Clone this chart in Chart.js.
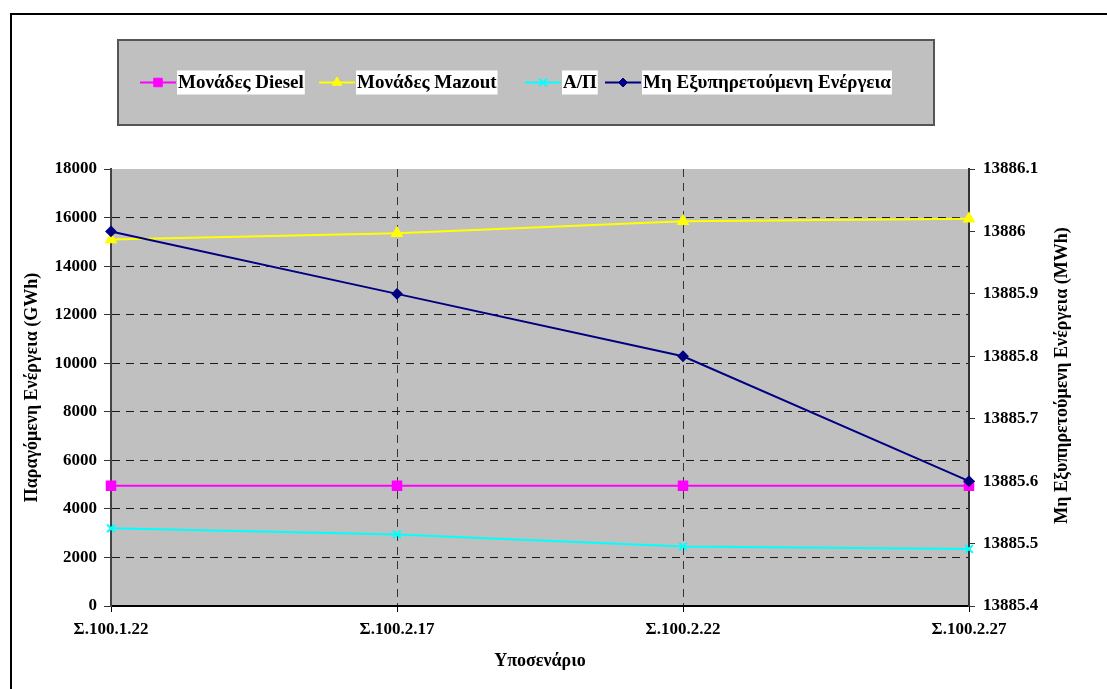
<!DOCTYPE html>
<html>
<head>
<meta charset="utf-8">
<script src="https://cdn.jsdelivr.net/npm/chart.js@4/dist/chart.umd.min.js"></script>
<style>
  html, body { margin: 0; padding: 0; background: #fff; }
  canvas { display: block; }
</style>
</head>
<body>
<canvas id="c" width="1107" height="689"></canvas>
<script>
// Scenario categories and yearly results
const scenarios = ['Σ.100.1.22', 'Σ.100.2.17', 'Σ.100.2.22', 'Σ.100.2.27'];
const dieselUnits = [4950, 4950, 4950, 4950];          // GWh
const mazoutUnits = [15100, 15350, 15850, 15950];      // GWh
const renewables = [3200, 2950, 2450, 2350];           // GWh
const unservedEnergy = [13886.0, 13885.9, 13885.8, 13885.6]; // MWh

// Axis tick values
const leftTicks = [0, 2000, 4000, 6000, 8000, 10000, 12000, 14000, 16000, 18000];
const rightTicks = [13885.4, 13885.5, 13885.6, 13885.7, 13885.8, 13885.9, 13886.0, 13886.1];

const FAMILY = '"Liberation Serif", "Times New Roman", serif';
const tickFont = { family: FAMILY, size: 17, weight: 'bold', lineHeight: 1.2 };
const titleFont = { family: FAMILY, size: 18, weight: 'bold', lineHeight: 1.2 };
const legendFontPx = 19;
const legendStarts = [140, 319, 525, 605];

const rightTitle = 'Μη Εξυπηρετούμενη Ενέργεια (MWh)';

// Background, outer frame, plot fill, legend box and right-hand title
const decor = {
  id: 'decor',
  beforeDraw(chart) {
    const ctx = chart.ctx;
    const a = chart.chartArea;
    ctx.save();
    ctx.fillStyle = '#ffffff';
    ctx.fillRect(0, 0, chart.width, chart.height);
    // frame (top and left edges)
    ctx.strokeStyle = '#000';
    ctx.lineWidth = 2;
    ctx.beginPath();
    ctx.moveTo(chart.width, 14);
    ctx.lineTo(11, 14);
    ctx.lineTo(11, chart.height);
    ctx.stroke();
    // plot area
    ctx.fillStyle = '#c0c0c0';
    ctx.fillRect(a.left, a.top, a.right - a.left, a.bottom - a.top);
    ctx.restore();
  },
  afterDraw(chart) {
    const ctx = chart.ctx;
    ctx.save();
    // legend box
    const bx = 118, by = 40, bw = 816, bh = 85;
    ctx.fillStyle = '#c0c0c0';
    ctx.fillRect(bx, by, bw, bh);
    ctx.strokeStyle = '#555';
    ctx.lineWidth = 2;
    ctx.strokeRect(bx, by, bw, bh);

    const cy = by + bh / 2;
    ctx.font = 'bold ' + legendFontPx + 'px ' + FAMILY;
    ctx.textBaseline = 'middle';
    ctx.textAlign = 'left';
    chart.data.datasets.forEach((ds, i) => {
      const x = legendStarts[i];
      ctx.strokeStyle = ds.borderColor;
      ctx.lineWidth = 2;
      ctx.beginPath();
      ctx.moveTo(x, cy);
      ctx.lineTo(x + 36, cy);
      ctx.stroke();
      ctx.save();
      ctx.fillStyle = ds.pointBackgroundColor;
      ctx.strokeStyle = ds.pointBorderColor;
      ctx.lineWidth = ds.pointBorderWidth || 1;
      Chart.helpers.drawPoint(ctx, {
        pointStyle: ds.pointStyle,
        radius: ds.pointRadius,
        rotation: 0,
        borderWidth: ds.pointBorderWidth || 1
      }, x + 18, cy);
      ctx.restore();
      const tx = x + 38;
      const w = ctx.measureText(ds.label).width;
      ctx.fillStyle = '#ffffff';
      ctx.fillRect(tx - 1, cy - 12, w + 2, 24);
      ctx.fillStyle = '#000';
      ctx.fillText(ds.label, tx, cy + 1);
    });

    // right axis title, reading bottom to top
    const a = chart.chartArea;
    ctx.translate(1062, (a.top + a.bottom) / 2 - 12);
    ctx.rotate(-Math.PI / 2);
    ctx.font = 'bold ' + titleFont.size + 'px ' + FAMILY;
    ctx.textAlign = 'center';
    ctx.textBaseline = 'middle';
    ctx.fillStyle = '#000';
    ctx.fillText(rightTitle, 0, 0);
    ctx.restore();
  }
};

new Chart(document.getElementById('c'), {
  type: 'line',
  data: {
    labels: scenarios,
    datasets: [
      {
        label: 'Μονάδες Diesel',
        data: dieselUnits,
        yAxisID: 'y',
        borderColor: '#ff00ff',
        backgroundColor: '#ff00ff',
        pointBackgroundColor: '#ff00ff',
        pointBorderColor: '#ff00ff',
        pointStyle: 'rect',
        pointRadius: 6,
        borderWidth: 2,
        order: 1
      },
      {
        label: 'Μονάδες Mazout',
        data: mazoutUnits,
        yAxisID: 'y',
        borderColor: '#ffff00',
        backgroundColor: '#ffff00',
        pointBackgroundColor: '#ffff00',
        pointBorderColor: '#ffff00',
        pointStyle: 'triangle',
        pointRadius: 5.5,
        borderWidth: 2,
        order: 2
      },
      {
        label: 'Α/Π',
        data: renewables,
        yAxisID: 'y',
        borderColor: '#00ffff',
        backgroundColor: '#00ffff',
        pointBackgroundColor: '#00ffff',
        pointBorderColor: '#00ffff',
        pointStyle: 'crossRot',
        pointRadius: 5.5,
        pointBorderWidth: 2,
        borderWidth: 2,
        order: 3
      },
      {
        label: 'Μη Εξυπηρετούμενη Ενέργεια',
        data: unservedEnergy,
        yAxisID: 'y1',
        borderColor: '#000080',
        backgroundColor: '#000080',
        pointBackgroundColor: '#000080',
        pointBorderColor: '#000080',
        pointStyle: 'rectRot',
        pointRadius: 4.5,
        borderWidth: 2,
        order: 0
      }
    ]
  },
  options: {
    responsive: false,
    devicePixelRatio: 1,
    animation: false,
    layout: { padding: { top: 169, left: 0, right: 0, bottom: 0 } },
    plugins: { legend: { display: false }, tooltip: { enabled: false } },
    elements: { line: { tension: 0 } },
    scales: {
      x: {
        type: 'category',
        offset: false,
        grid: {
          color: c => (c.index === 1 || c.index === 2) ? '#333' : 'rgba(0,0,0,0)',
          lineWidth: 1,
          tickLength: 6,
          tickColor: '#000',
          borderDash: [8, 6]
        },
        border: { display: true, color: '#000', width: 2, dash: [8, 6] },
        ticks: { font: tickFont, color: '#000', padding: 7, maxRotation: 0, autoSkip: false },
        title: { display: true, text: 'Υποσενάριο', font: titleFont, color: '#000', padding: { top: 0, bottom: 17 } },
        afterFit: s => { s.height = 83; }
      },
      y: {
        position: 'left',
        min: 0,
        max: 18000,
        afterBuildTicks: s => { s.ticks = leftTicks.map(v => ({ value: v })); },
        ticks: { font: tickFont, color: '#000', padding: 7, callback: v => String(v) },
        grid: {
          color: c => (c.index === 0 || c.index === leftTicks.length - 1) ? 'rgba(0,0,0,0)' : '#1a1a1a',
          lineWidth: 1,
          tickLength: 7,
          tickColor: '#333',
          borderDash: [8, 6]
        },
        border: { display: true, color: '#444', width: 2, dash: [8, 6] },
        title: { display: true, text: 'Παραγόμενη Ενέργεια (GWh)', font: titleFont, color: '#000', padding: { top: 22, bottom: 0 } },
        afterFit: s => { s.width = 111; }
      },
      y1: {
        position: 'right',
        min: 13885.4,
        max: 13886.1,
        afterBuildTicks: s => { s.ticks = rightTicks.map(v => ({ value: v })); },
        ticks: { font: tickFont, color: '#000', padding: 8, callback: v => String(Number(Number(v).toFixed(1))) },
        grid: { drawOnChartArea: false, tickLength: 6, tickColor: '#333' },
        border: { display: true, color: '#333', width: 2 },
        afterFit: s => { s.width = 138; }
      }
    }
  },
  plugins: [decor]
});
</script>
</body>
</html>
